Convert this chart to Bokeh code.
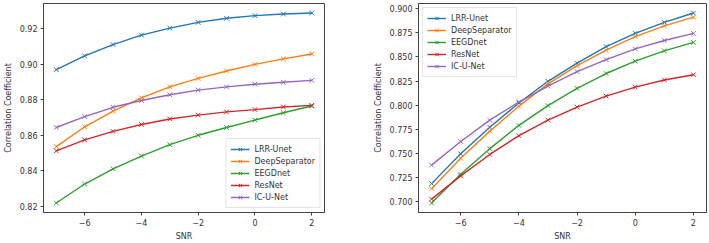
from bokeh.plotting import figure
from bokeh.layouts import row
from bokeh.models import Range1d, FixedTicker
from bokeh.embed import file_html
from bokeh.resources import INLINE

snr = [-7, -6, -5, -4, -3, -2, -1, 0, 1, 2]
names = ["LRR-Unet", "DeepSeparator", "EEGDnet", "ResNet", "IC-U-Net"]
colors = ["#1f77b4", "#ff7f0e", "#2ca02c", "#d62728", "#9467bd"]

left_lrr = [0.897, 0.9048, 0.9112, 0.9165, 0.9205, 0.9237, 0.926, 0.9275, 0.9284, 0.929]
left_deep = [0.8536, 0.8648, 0.8736, 0.8811, 0.8873, 0.8921, 0.8963, 0.900, 0.9031, 0.9059]
left_eegd = [0.8218, 0.8325, 0.8411, 0.8483, 0.8547, 0.860, 0.8644, 0.8686, 0.8727, 0.8765]
left_res = [0.8512, 0.8574, 0.8622, 0.8661, 0.8692, 0.8714, 0.8732, 0.8745, 0.876, 0.8769]
left_icu = [0.8644, 0.8705, 0.8758, 0.8796, 0.8829, 0.8855, 0.8873, 0.8888, 0.8899, 0.891]

right_lrr = [0.7185, 0.7495, 0.777, 0.8022, 0.8247, 0.8435, 0.8607, 0.8745, 0.8859, 0.8956]
right_deep = [0.7132, 0.7448, 0.773, 0.7989, 0.822, 0.8409, 0.857, 0.8711, 0.8822, 0.8913]
right_eegd = [0.6984, 0.7283, 0.7548, 0.779, 0.7995, 0.8173, 0.8328, 0.8456, 0.8563, 0.8651]
right_res = [0.7024, 0.7266, 0.7488, 0.7683, 0.7844, 0.7979, 0.8093, 0.8187, 0.8261, 0.8315]
right_icu = [0.7377, 0.7622, 0.7844, 0.8032, 0.8197, 0.8348, 0.8472, 0.8583, 0.8671, 0.8745]

x_ticks = [-6, -4, -2, 0, 2]
left_yticks = [0.82, 0.84, 0.86, 0.88, 0.90, 0.92]
right_yticks = [0.700, 0.725, 0.750, 0.775, 0.800, 0.825, 0.850, 0.875, 0.900]

FONT = "DejaVu Sans"
EDGE = "#444444"
FS = "8px"


def make(series, yticks, yfmt, width, bl, br, legend_loc):
    p = figure(width=width, height=243, output_backend="svg", toolbar_location=None,
               min_border_left=bl, min_border_right=br, min_border_top=3, min_border_bottom=26)
    allv = [v for s in series for v in s]
    lo, hi = min(allv), max(allv)
    pad = (hi - lo) * 0.05
    p.y_range = Range1d(lo - pad, hi + pad)
    p.x_range = Range1d(-7.45, 2.45)
    for name, col, ys in zip(names, colors, series):
        p.line(snr, ys, color=col, line_width=1.4, legend_label=name)
        p.scatter(snr, ys, marker="x", size=6.5, color=col, line_width=1, legend_label=name)
    p.xgrid.visible = False
    p.ygrid.visible = False
    p.outline_line_color = EDGE
    p.outline_line_width = 1
    p.xaxis.ticker = FixedTicker(ticks=x_ticks)
    p.yaxis.ticker = FixedTicker(ticks=yticks)
    p.yaxis.major_label_overrides = {t: yfmt.format(t) for t in yticks}
    p.xaxis.major_label_overrides = {t: ("\u2212" + str(-t)) if t < 0 else str(t) for t in x_ticks}
    p.xaxis.axis_label = "SNR"
    p.yaxis.axis_label = "Correlation Coefficient"
    for ax in (p.xaxis[0], p.yaxis[0]):
        ax.axis_line_color = EDGE
        ax.major_tick_line_color = EDGE
        ax.minor_tick_line_color = None
        ax.major_tick_out = 3
        ax.major_tick_in = 0
        ax.major_label_text_font = FONT
        ax.major_label_text_font_size = FS
        ax.major_label_text_color = "#333333"
        ax.axis_label_text_font = FONT
        ax.axis_label_text_font_size = FS
        ax.axis_label_text_font_style = "normal"
        ax.axis_label_text_color = "#333333"
    p.xaxis.major_label_standoff = 3
    p.xaxis.axis_label_standoff = 3
    p.yaxis.major_label_standoff = 3
    p.yaxis.axis_label_standoff = 4
    lg = p.legend[0]
    lg.location = legend_loc
    lg.margin = 4
    lg.padding = 4
    lg.spacing = 0
    lg.label_text_font = FONT
    lg.label_text_font_size = FS
    lg.label_text_color = "#333333"
    lg.label_height = 12
    lg.glyph_height = 12
    lg.glyph_width = 19
    lg.label_standoff = 5
    lg.border_line_color = "#cccccc"
    lg.border_line_width = 1
    lg.background_fill_alpha = 0.8
    return p


p1 = make([left_lrr, left_deep, left_eegd, left_res, left_icu], left_yticks, "{:.2f}",
          354, 37, 30, "bottom_right")
p2 = make([right_lrr, right_deep, right_eegd, right_res, right_icu], right_yticks, "{:.3f}",
          355, 64, 3, "top_left")

layout = row(p1, p2)
open("out.html", "w").write(file_html(layout, INLINE))
